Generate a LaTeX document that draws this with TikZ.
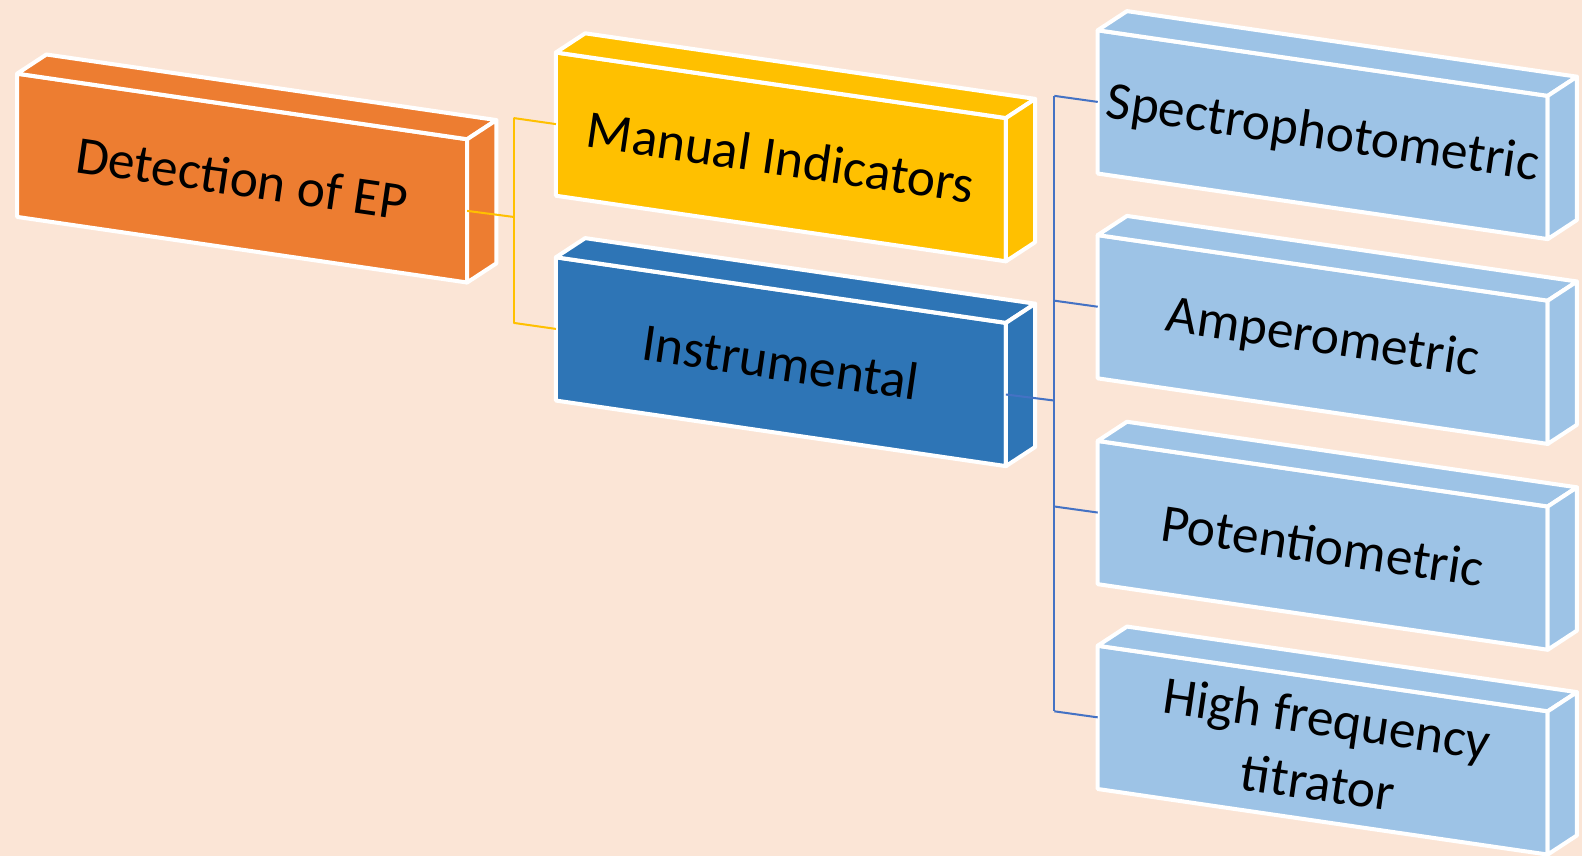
\documentclass[tikz,border=0pt]{standalone}
\usepackage{fontspec}
\setmainfont{Carlito}
\usetikzlibrary{calc}
\definecolor{sfondo}{HTML}{FBE5D6}
\definecolor{arancio}{HTML}{ED7D31}
\definecolor{giallo}{HTML}{FFC000}
\definecolor{blu}{HTML}{2E75B6}
\definecolor{azzurro}{HTML}{9DC3E6}
\definecolor{linea}{HTML}{4472C4}
\begin{document}
\begin{tikzpicture}[x=0.5pt, y=-0.5pt,
    faccia/.style={draw=white, line width=2pt, line join=round},
    etichetta/.style={font=\fontsize{26.5}{32}\selectfont, align=center, rotate=-8.3},
    ramo/.style={line width=1pt}]
    %sfondo
    \fill[sfondo] (0, 0) rectangle (1568, 848);
    \useasboundingbox (0, 0) rectangle (1568, 848);
    %scatole
    \foreach \nome/\x/\y/\col/\testo in {ep/17/73/arancio/{Detection of EP},
        man/551/52/giallo/{Manual Indicators}, ins/551/255/blu/{Instrumental},
        spe/1088/30/azzurro/{Spectrophotometric}, amp/1088/233/azzurro/{Amperometric},
        pot/1088/437/azzurro/{Potentiometric}, hf/1088/640/azzurro/{High frequency\\titrator}}
    {
        \filldraw[faccia, fill=\col] (\x, \y) -- ++(446, 65) -- ++(0, 142) -- ++(-446, -65) -- cycle;
        \filldraw[faccia, fill=\col] (\x, \y) -- ++(29, -19) -- ++(446, 65) -- ++(-29, 19) -- cycle;
        \filldraw[faccia, fill=\col] (\x+446, \y+65) -- ++(29, -19) -- ++(0, 142) -- ++(-29, 19) -- cycle;
        \node[etichetta] (\nome) at (\x+223, \y+103.5) {\testo};
        \coordinate (\nome-l) at (\x, \y+71);
        \coordinate (\nome-r) at (\x+446, \y+136);
    }
    %collegamenti
    \coordinate (j1) at ($(ep-r)+(46, 6)$);
    \coordinate (man-a) at ($(man-l)+(-42, -6)$);
    \coordinate (ins-a) at ($(ins-l)+(-42, -6)$);
    \draw[ramo, giallo] (ep-r) -- (j1);
    \draw[ramo, giallo] (man-a) -- (ins-a);
    \draw[ramo, giallo] (man-a) -- (man-l);
    \draw[ramo, giallo] (ins-a) -- (ins-l);
    \coordinate (j2) at ($(ins-r)+(48, 6)$);
    \foreach \n in {spe, amp, pot, hf}
        \coordinate (\n-a) at ($(\n-l)+(-43, -6)$);
    \draw[ramo, linea] (ins-r) -- (j2);
    \draw[ramo, linea] (spe-a) -- (hf-a);
    \foreach \n in {spe, amp, pot, hf}
        \draw[ramo, linea] (\n-a) -- (\n-l);
\end{tikzpicture}
\end{document}
